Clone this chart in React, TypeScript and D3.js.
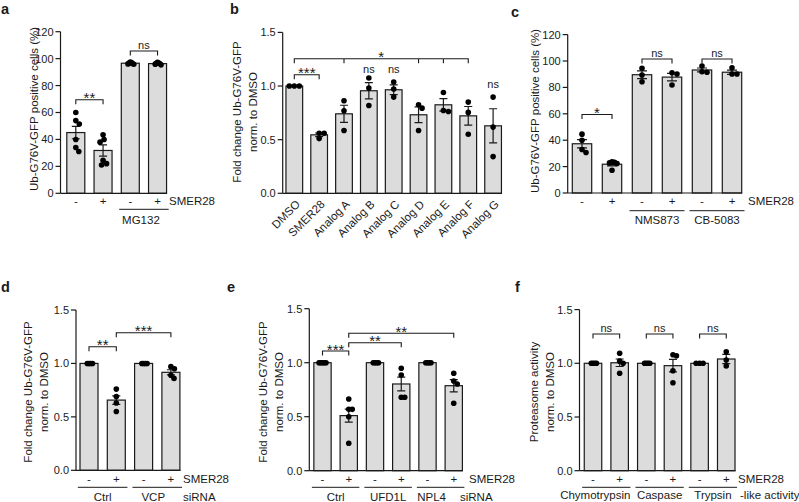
import * as d3 from 'd3'

const W = 799, H = 502
const FONT = '"Liberation Sans", Arial, Helvetica, sans-serif'
const INK = '#1a1a1a'
const BAR_FILL = '#dcdcdc'

// ---- panel a: MG132
const aTreat = ['-', '+', '-', '+']
const aMean = [45.1, 31.8, 96.6, 96.3]
const aSem = [4.6, 4.2, 0.3, 0.35]
const aPoints = [
  [60, 54, 51.5, 40, 34, 31],
  [43.5, 40, 38, 24.5, 22, 21],
  [97.4, 97, 96.7, 96.4, 96.1, 95.8],
  [97.2, 96.8, 96.5, 96.2, 95.9, 95.4],
]
const pctTicks = [0, 20, 40, 60, 80, 100, 120]

// ---- panel b: analogs
const bNames = ['DMSO', 'SMER28', 'Analog A', 'Analog B', 'Analog C', 'Analog D', 'Analog E', 'Analog F', 'Analog G']
const bMean = [1.0, 0.545, 0.741, 0.956, 0.965, 0.732, 0.825, 0.722, 0.629]
const bSem = [0, 0.017, 0.08, 0.075, 0.045, 0.073, 0.058, 0.087, 0.159]
const bPoints = [
  [1, 1, 1],
  [0.56, 0.56, 0.51],
  [0.863, 0.769, 0.585],
  [1.075, 0.981, 0.819],
  [1.037, 0.972, 0.897],
  [0.825, 0.794, 0.585],
  [0.94, 0.772, 0.763],
  [0.85, 0.754, 0.551],
  [0.897, 0.617, 0.342],
]
const foldTicks = [0, 0.5, 1.0, 1.5]

// ---- panel c: NMS873 / CB-5083
const cTreat = ['-', '+', '-', '+', '-', '+']
const cMean = [37.3, 21.8, 89.6, 87.8, 93.2, 91.5]
const cSem = [3.1, 1.3, 2.9, 2.8, 1.5, 1.6]
const cPoints = [
  [44.6, 40, 33, 30.7],
  [23.6, 23.2, 22.8, 22.4, 17.2],
  [94.5, 89.4, 84.3],
  [91.1, 90.1, 81.8],
  [96.2, 91.9, 91.5],
  [94.9, 90.1, 90.1],
]

// ---- panel d: VCP siRNA
const dTreat = ['-', '+', '-', '+']
const dMean = [1.0, 0.657, 1.0, 0.917]
const dSem = [0, 0.04, 0, 0.024]
const dPoints = [
  [1, 1, 1, 1],
  [0.76, 0.69, 0.63, 0.55],
  [1, 1, 1, 1],
  [0.97, 0.95, 0.89, 0.86],
]

// ---- panel e: UFD1L / NPL4 siRNA
const eTreat = ['-', '+', '-', '+', '-', '+']
const eMean = [1.0, 0.51, 1.0, 0.803, 1.0, 0.787]
const eSem = [0, 0.06, 0, 0.064, 0, 0.057]
const ePoints = [
  [1, 1, 1, 1, 1],
  [0.664, 0.568, 0.568, 0.5, 0.254],
  [1, 1, 1, 1],
  [0.948, 0.886, 0.68, 0.68],
  [1, 1, 1, 1],
  [0.902, 0.83, 0.803, 0.624],
]

// ---- panel f: proteasome activity
const fTreat = ['-', '+', '-', '+', '-', '+']
const fMean = [1.0, 1.005, 1.0, 0.978, 1.0, 1.04]
const fSem = [0, 0.035, 0, 0.058, 0, 0.043]
const fPoints = [
  [1, 1, 1, 1],
  [1.093, 1.02, 1.0, 0.907],
  [1, 1, 1, 1],
  [1.08, 1.07, 0.931, 0.819],
  [1, 1, 1],
  [1.108, 1.031, 0.975],
]

type Bracket = { from: number; to: number; level: number; label: string; ticks?: number[] }
type Note = { at: number; level: number; label: string }
type Group = { from: number; to: number; label: string; dx?: number }

interface Spec {
  letter: string; letterX: number; letterY: number
  axisX: number; yTop: number; yBottom: number; yMax: number
  ticks: number[]; fmt: (v: number) => string
  firstCenter: number; step: number; barW: number
  labels: string[]; rotated?: boolean; labelY: number
  mean: number[]; sem: number[]; points: number[][]
  brackets: Bracket[]; notes?: Note[]
  rowLabel?: string; rowLabelX?: number
  groups?: Group[]; groupLineY?: number; groupLabelY?: number
  trailing?: string; trailingX?: number
  title: string[]; titleX: number[]; titleY: number
  maxOff: number; cap: number
}

const R = 2.8

// Prism-like scatter: push overlapping points sideways
function swarm(vals: number[], y: (v: number) => number, maxOff: number) {
  const order = vals.map((v, i) => ({ v, i })).sort((p, q) => q.v - p.v)
  const placed: { x: number; y: number }[] = []
  const out = vals.map(() => 0)
  const minD = R * 1.7
  for (const { v, i } of order) {
    const py = y(v)
    let off = 0
    for (let k = 0; k < 80; k++) {
      const c = k === 0 ? 0 : (k % 2 ? 1 : -1) * Math.ceil(k / 2) * 0.5
      if (placed.every(p => Math.hypot(p.x - c, p.y - py) >= minD)) { off = c; break }
    }
    placed.push({ x: off, y: py })
    out[i] = off
  }
  const m = d3.max(out, o => Math.abs(o)) ?? 0
  const k = m > maxOff ? maxOff / m : 1
  return out.map(o => o * k)
}

const fmtPct = (v: number) => d3.format('d')(v)
const fmtFold = (v: number) => d3.format('.1f')(v)

const specs: Spec[] = [
  {
    letter: 'a', letterX: 1, letterY: 13.5,
    axisX: 60.5, yTop: 31.7, yBottom: 193.3, yMax: 120, ticks: pctTicks, fmt: fmtPct,
    firstCenter: 75.8, step: 27.25, barW: 18,
    labels: aTreat, labelY: 205, mean: aMean, sem: aSem, points: aPoints,
    brackets: [{ from: 0, to: 1, level: 69.5, label: '**' }, { from: 2, to: 3, level: 105.7, label: 'ns' }],
    rowLabel: 'SMER28', rowLabelX: 169,
    groups: [{ from: 2, to: 3, label: 'MG132', dx: -3 }], groupLineY: 209.3, groupLabelY: 224,
    title: ['Ub-G76V-GFP positive cells (%)'], titleX: [33.5], titleY: 109,
    maxOff: 3.5, cap: 4,
  },
  {
    letter: 'b', letterX: 230, letterY: 13.5,
    axisX: 282.7, yTop: 32.4, yBottom: 193.3, yMax: 1.5, ticks: foldTicks, fmt: fmtFold,
    firstCenter: 294.3, step: 24.85, barW: 16.7,
    labels: bNames, rotated: true, labelY: 205, mean: bMean, sem: bSem, points: bPoints,
    brackets: [
      { from: 0, to: 1, level: 1.105, label: '***' },
      { from: 0, to: 7, level: 1.255, label: '*', ticks: [2, 5, 6] },
    ],
    notes: [{ at: 3, level: 1.12, label: 'ns' }, { at: 4, level: 1.12, label: 'ns' }, { at: 8, level: 0.98, label: 'ns' }],
    title: ['Fold change Ub-G76V-GFP', 'norm. to DMSO'], titleX: [236.7, 252.5], titleY: 112,
    maxOff: 5, cap: 4,
  },
  {
    letter: 'c', letterX: 511, letterY: 17,
    axisX: 567.7, yTop: 34.6, yBottom: 193, yMax: 120, ticks: pctTicks, fmt: fmtPct,
    firstCenter: 582, step: 30, barW: 19.4,
    labels: cTreat, labelY: 205, mean: cMean, sem: cSem, points: cPoints,
    brackets: [
      { from: 0, to: 1, level: 59.5, label: '*' },
      { from: 2, to: 3, level: 101.5, label: 'ns' },
      { from: 4, to: 5, level: 101.5, label: 'ns' },
    ],
    rowLabel: 'SMER28', rowLabelX: 748,
    groups: [{ from: 2, to: 3, label: 'NMS873' }, { from: 4, to: 5, label: 'CB-5083' }], groupLineY: 210.7, groupLabelY: 223.5,
    title: ['Ub-G76V-GFP positive cells (%)'], titleX: [535], titleY: 111,
    maxOff: 5, cap: 5,
  },
  {
    letter: 'd', letterX: 1, letterY: 291.7,
    axisX: 76, yTop: 310, yBottom: 470.3, yMax: 1.5, ticks: foldTicks, fmt: fmtFold,
    firstCenter: 89, step: 27.3, barW: 18,
    labels: dTreat, labelY: 483, mean: dMean, sem: dSem, points: dPoints,
    brackets: [{ from: 0, to: 1, level: 1.156, label: '**' }, { from: 1, to: 3, level: 1.287, label: '***' }],
    rowLabel: 'SMER28', rowLabelX: 183,
    groups: [{ from: 0, to: 1, label: 'Ctrl' }, { from: 2, to: 3, label: 'VCP', dx: -4 }], groupLineY: 487.3, groupLabelY: 500.5,
    trailing: 'siRNA', trailingX: 183,
    title: ['Fold change Ub-G76V-GFP', 'norm. to DMSO'], titleX: [28, 44], titleY: 392,
    maxOff: 3.5, cap: 4,
  },
  {
    letter: 'e', letterX: 227, letterY: 291.7,
    axisX: 309.3, yTop: 308.7, yBottom: 470.7, yMax: 1.5, ticks: foldTicks, fmt: fmtFold,
    firstCenter: 322.5, step: 26.25, barW: 17.3,
    labels: eTreat, labelY: 483, mean: eMean, sem: eSem, points: ePoints,
    brackets: [
      { from: 0, to: 1, level: 1.108, label: '***' },
      { from: 1, to: 3, level: 1.185, label: '**' },
      { from: 1, to: 5, level: 1.272, label: '**' },
    ],
    rowLabel: 'SMER28', rowLabelX: 469,
    groups: [{ from: 0, to: 1, label: 'Ctrl' }, { from: 2, to: 3, label: 'UFD1L' }, { from: 4, to: 5, label: 'NPL4', dx: -9 }],
    groupLineY: 487.3, groupLabelY: 500.5,
    trailing: 'siRNA', trailingX: 460,
    title: ['Fold change Ub-G76V-GFP', 'norm. to DMSO'], titleX: [262.5, 279], titleY: 392,
    maxOff: 3.5, cap: 4,
  },
  {
    letter: 'f', letterX: 515, letterY: 291.7,
    axisX: 579.5, yTop: 309.6, yBottom: 470.7, yMax: 1.5, ticks: foldTicks, fmt: fmtFold,
    firstCenter: 593, step: 26.65, barW: 17.5,
    labels: fTreat, labelY: 483, mean: fMean, sem: fSem, points: fPoints,
    brackets: [
      { from: 0, to: 1, level: 1.273, label: 'ns' },
      { from: 2, to: 3, level: 1.273, label: 'ns' },
      { from: 4, to: 5, level: 1.273, label: 'ns' },
    ],
    rowLabel: 'SMER28', rowLabelX: 738,
    groups: [{ from: 0, to: 1, label: 'Chymotrypsin', dx: -11 }, { from: 2, to: 3, label: 'Caspase' }, { from: 4, to: 5, label: 'Trypsin' }],
    groupLineY: 487.3, groupLabelY: 498.5,
    trailing: '-like activity', trailingX: 740,
    title: ['Proteasome activity', 'norm. to DMSO'], titleX: [534, 549.5], titleY: 392,
    maxOff: 3.5, cap: 4,
  },
]

function Panel({ s }: { s: Spec }) {
  const n = s.mean.length
  const idx = d3.range(n)
  const x = d3.scalePoint<number>().domain(idx).range([s.firstCenter, s.firstCenter + s.step * (n - 1)])
  const y = d3.scaleLinear().domain([0, s.yMax]).range([s.yBottom, s.yTop])
  const hw = s.barW / 2
  const axisEnd = x(n - 1)! + hw + 0.5
  const tk = 4.5

  return (
    <g fontFamily={FONT} fill={INK}>
      <text x={s.letterX} y={s.letterY} fontSize={14.5} fontWeight="bold">{s.letter}</text>

      {/* y title */}
      {s.title.map((t, i) => (
        <text key={t} transform={`translate(${s.titleX[i]},${s.titleY}) rotate(-90)`} textAnchor="middle" dy="0.36em" fontSize={11.5}>{t}</text>
      ))}

      {/* bars */}
      {idx.map(i => (
        <rect key={i} x={x(i)! - hw} y={y(s.mean[i])} width={s.barW} height={s.yBottom - y(s.mean[i])}
          fill={BAR_FILL} stroke={INK} strokeWidth={1.2} />
      ))}

      {/* error bars */}
      {idx.filter(i => s.sem[i] > 0).map(i => {
        const cx = x(i)!, y1 = y(s.mean[i] + s.sem[i]), y2 = y(s.mean[i] - s.sem[i])
        return (
          <path key={i} d={`M${cx},${y1}V${y2}M${cx - s.cap},${y1}H${cx + s.cap}M${cx - s.cap},${y2}H${cx + s.cap}`}
            stroke={INK} strokeWidth={1.2} fill="none" />
        )
      })}

      {/* points */}
      {idx.map(i => {
        const offs = swarm(s.points[i], y, s.maxOff)
        return s.points[i].map((v, j) => (
          <circle key={`${i}-${j}`} cx={x(i)! + offs[j]} cy={y(v)} r={R} fill="#000" />
        ))
      })}

      {/* y axis */}
      <path d={`M${s.axisX},${y(s.yMax)}V${s.yBottom}`} stroke={INK} strokeWidth={1.2} fill="none" />
      {s.ticks.map(t => (
        <g key={t}>
          <path d={`M${s.axisX - 5},${y(t)}H${s.axisX}`} stroke={INK} strokeWidth={1.2} />
          <text x={s.axisX - 7} y={y(t)} dy="0.36em" textAnchor="end" fontSize={11}>{s.fmt(t)}</text>
        </g>
      ))}
      {/* x axis */}
      <path d={`M${s.axisX},${s.yBottom}H${axisEnd}`} stroke={INK} strokeWidth={1.2} fill="none" />

      {/* category labels */}
      {s.rotated
        ? s.labels.map((l, i) => (
          <text key={i} transform={`translate(${x(i)! + 6.5},${s.labelY}) rotate(-45)`} textAnchor="end" fontSize={11.5}>{l}</text>
        ))
        : s.labels.map((l, i) => (
          <text key={i} x={x(i)!} y={s.labelY} textAnchor="middle" fontSize={11.5}>{l}</text>
        ))}
      {s.rowLabel && <text x={s.rowLabelX} y={s.labelY} fontSize={11.5}>{s.rowLabel}</text>}

      {/* treatment groups */}
      {s.groups?.map(g => {
        const x1 = x(g.from)! - s.step / 2 + 2.5
        const x2 = x(g.to)! + s.step / 2 - 2.5
        return (
          <g key={g.label}>
            <path d={`M${x1},${s.groupLineY}H${x2}`} stroke={INK} strokeWidth={1} />
            <text x={(x1 + x2) / 2 + (g.dx ?? 0)} y={s.groupLabelY} textAnchor="middle" fontSize={11.5}>{g.label}</text>
          </g>
        )
      })}
      {s.trailing && <text x={s.trailingX} y={s.groupLabelY} fontSize={11.5}>{s.trailing}</text>}

      {/* significance */}
      {s.brackets.map((b, k) => {
        const x1 = x(b.from)!, x2 = x(b.to)!, by = y(b.level)
        const inner = (b.ticks ?? []).map(t => `M${x(t)},${by}v${tk}`).join('')
        const star = b.label.includes('*')
        return (
          <g key={k}>
            <path d={`M${x1},${by + tk}V${by}H${x2}V${by + tk}${inner}`} stroke={INK} strokeWidth={1.1} fill="none" />
            <text x={(x1 + x2) / 2} y={star ? by + 3.5 : by - 2} textAnchor="middle" fontSize={star ? 15 : 11}>{b.label}</text>
          </g>
        )
      })}
      {s.notes?.map((nt, k) => (
        <text key={k} x={x(nt.at)!} y={y(nt.level)} textAnchor="middle" fontSize={11}>{nt.label}</text>
      ))}
    </g>
  )
}

export default function App() {
  return (
    <svg width={W} height={H} viewBox={`0 0 ${W} ${H}`} style={{ position: 'absolute', left: 0, top: 0, background: '#fff' }}>
      <rect width={W} height={H} fill="#fff" />
      {specs.map(s => <Panel key={s.letter} s={s} />)}
    </svg>
  )
}
